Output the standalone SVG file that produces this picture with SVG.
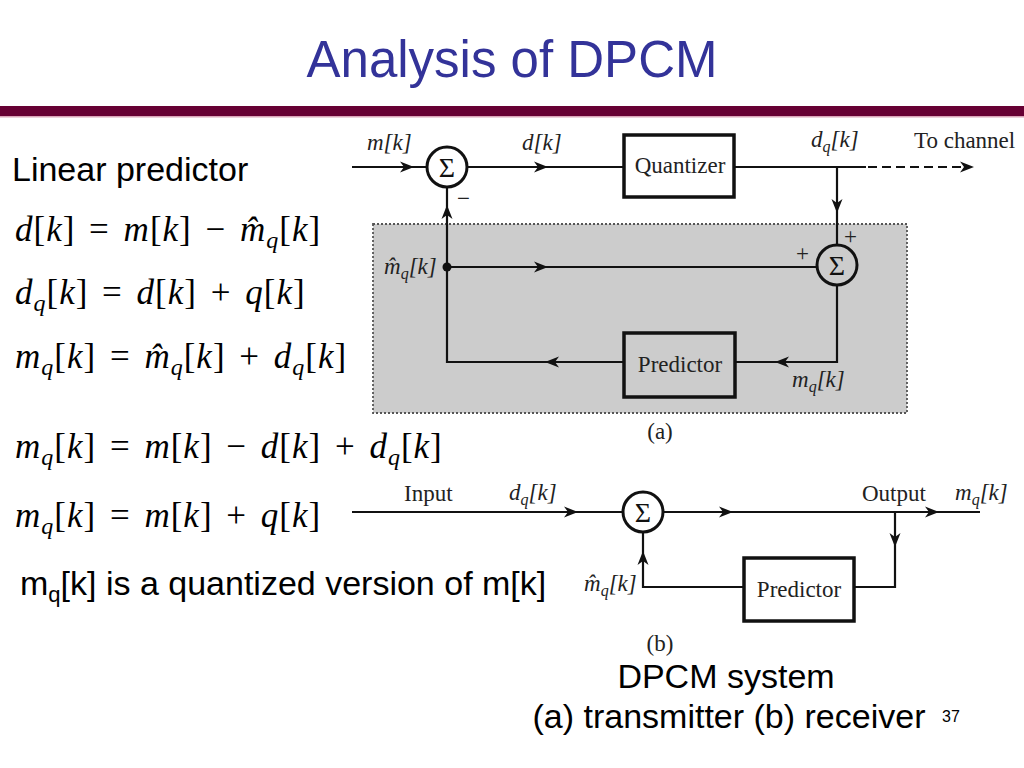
<svg xmlns="http://www.w3.org/2000/svg" xmlns:xlink="http://www.w3.org/1999/xlink" width="1024" height="768" viewBox="0 0 1024 768">
<defs>
<style>
.title{font-family:"Liberation Sans",Arial,sans-serif;font-size:51px;fill:#333399}
.body{font-family:"Liberation Sans",Arial,sans-serif;font-size:34px;fill:#000}
.eq{font-family:"Liberation Serif","Times New Roman",serif;font-size:35px;fill:#000;letter-spacing:1px;word-spacing:4px}
.i{font-style:italic}
.s{font-size:24px;font-style:italic}
.lbl{font-family:"Liberation Serif","Times New Roman",serif;font-size:23px;fill:#222}
.li{font-family:"Liberation Serif","Times New Roman",serif;font-size:23px;font-style:italic;fill:#222}
.ls{font-size:16px}
.box{fill:none;stroke:#111;stroke-width:3.5}
.wire{fill:none;stroke:#111;stroke-width:2.2}
.sum{stroke:#111;stroke-width:3}
.sig{font-family:"Liberation Serif","Times New Roman",serif;font-size:28px;fill:#111;text-anchor:middle}
</style>
<path id="ah" d="M0,0 L-14,-5.5 L-10,0 L-14,5.5 Z" fill="#111"/>
</defs>
<rect width="1024" height="768" fill="#fff"/>
<text class="title" x="512" y="77" text-anchor="middle">Analysis of DPCM</text>
<rect x="0" y="106" width="1024" height="10" fill="#660033"/>
<rect x="0" y="116" width="1024" height="1.5" fill="#d9a5b8"/>

<g id="left-text">
<text class="body" x="12" y="181">Linear predictor</text>
<text class="eq" x="15" y="241"><tspan class="i">d</tspan>[<tspan class="i">k</tspan>] = <tspan class="i">m</tspan>[<tspan class="i">k</tspan>] − <tspan class="i">m̂</tspan><tspan class="s" dy="7">q</tspan><tspan dy="-7">[</tspan><tspan class="i">k</tspan>]</text>
<text class="eq" x="15" y="304"><tspan class="i">d</tspan><tspan class="s" dy="7">q</tspan><tspan dy="-7">[</tspan><tspan class="i">k</tspan>] = <tspan class="i">d</tspan>[<tspan class="i">k</tspan>] + <tspan class="i">q</tspan>[<tspan class="i">k</tspan>]</text>
<text class="eq" x="15" y="368"><tspan class="i">m</tspan><tspan class="s" dy="7">q</tspan><tspan dy="-7">[</tspan><tspan class="i">k</tspan>] = <tspan class="i">m̂</tspan><tspan class="s" dy="7">q</tspan><tspan dy="-7">[</tspan><tspan class="i">k</tspan>] + <tspan class="i">d</tspan><tspan class="s" dy="7">q</tspan><tspan dy="-7">[</tspan><tspan class="i">k</tspan>]</text>
<text class="eq" x="15" y="458"><tspan class="i">m</tspan><tspan class="s" dy="7">q</tspan><tspan dy="-7">[</tspan><tspan class="i">k</tspan>] = <tspan class="i">m</tspan>[<tspan class="i">k</tspan>] − <tspan class="i">d</tspan>[<tspan class="i">k</tspan>] + <tspan class="i">d</tspan><tspan class="s" dy="7">q</tspan><tspan dy="-7">[</tspan><tspan class="i">k</tspan>]</text>
<text class="eq" x="15" y="527"><tspan class="i">m</tspan><tspan class="s" dy="7">q</tspan><tspan dy="-7">[</tspan><tspan class="i">k</tspan>] = <tspan class="i">m</tspan>[<tspan class="i">k</tspan>] + <tspan class="i">q</tspan>[<tspan class="i">k</tspan>]</text>
<text class="body" x="20" y="595">m<tspan font-size="22px" dy="7">q</tspan><tspan dy="-7">[k] is a quantized version of m[k]</tspan></text>
</g>

<g id="transmitter-area">
<rect x="373" y="224" width="534" height="189" fill="#cccccc" stroke="#555" stroke-width="1.8" stroke-dasharray="2 2"/>
</g>

<g id="connectors">
<path class="wire" d="M352,167 H426"/>
<path class="wire" d="M468,167 H624"/>
<path class="wire" d="M733,167 H866"/>
<path class="wire" d="M868,167 H962" stroke-dasharray="9 5"/>
<path class="wire" d="M837,167 V244"/>
<path class="wire" d="M447,267 H816"/>
<path class="wire" d="M837,286 V362 H735"/>
<path class="wire" d="M624,362 H447 V188"/>
<circle cx="447" cy="267" r="4.5" fill="#111"/>
<use xlink:href="#ah" transform="translate(414,167)"/>
<use xlink:href="#ah" transform="translate(548,167)"/>
<use xlink:href="#ah" transform="translate(974,167)"/>
<use xlink:href="#ah" transform="translate(837,213) rotate(90)"/>
<use xlink:href="#ah" transform="translate(548,267)"/>
<use xlink:href="#ah" transform="translate(775,362) rotate(180)"/>
<use xlink:href="#ah" transform="translate(545,362) rotate(180)"/>
<use xlink:href="#ah" transform="translate(447,205) rotate(-90)"/>

<path class="wire" d="M352,512 H623"/>
<path class="wire" d="M663,512 H980"/>
<path class="wire" d="M895,512 V587 H854"/>
<path class="wire" d="M744,587 H643 V532"/>
<use xlink:href="#ah" transform="translate(578,512)"/>
<use xlink:href="#ah" transform="translate(733,512)"/>
<use xlink:href="#ah" transform="translate(939,512)"/>
<use xlink:href="#ah" transform="translate(895,547) rotate(90)"/>
<use xlink:href="#ah" transform="translate(643,551) rotate(-90)"/>
</g>

<g id="sum1">
<circle class="sum" cx="447" cy="167" r="20" fill="#fff"/>
<text class="sig" x="447" y="177">Σ</text>
</g>
<g id="quantizer">
<rect class="box" x="624" y="135" width="110" height="62" fill="#fff"/>
<text class="lbl" x="680" y="173" text-anchor="middle" font-size="24px">Quantizer</text>
</g>
<g id="sum2">
<circle class="sum" cx="837" cy="265" r="20" fill="none"/>
<text class="sig" x="837" y="275">Σ</text>
</g>
<g id="predictor-a">
<rect class="box" x="624" y="333" width="111" height="64" fill="none"/>
<text class="lbl" x="680" y="372" text-anchor="middle" font-size="24px">Predictor</text>
</g>
<g id="sum3">
<circle class="sum" cx="643" cy="512" r="20" fill="#fff"/>
<text class="sig" x="643" y="522">Σ</text>
</g>
<g id="predictor-b">
<rect class="box" x="744" y="558" width="110" height="63" fill="#fff"/>
<text class="lbl" x="799" y="597" text-anchor="middle" font-size="24px">Predictor</text>
</g>

<g id="labels">
<text class="li" x="367" y="150">m[k]</text>
<text class="li" x="522" y="150">d[k]</text>
<text class="lbl" x="457" y="206" font-size="21px">−</text>
<text class="li" x="811" y="147">d<tspan class="ls" dy="5">q</tspan><tspan dy="-5">[k]</tspan></text>
<text class="lbl" x="914" y="148">To channel</text>
<text class="lbl" x="844" y="244" font-size="21px">+</text>
<text class="lbl" x="796" y="261" font-size="21px">+</text>
<text class="li" x="384" y="274">m̂<tspan class="ls" dy="5">q</tspan><tspan dy="-5">[k]</tspan></text>
<text class="li" x="792" y="387">m<tspan class="ls" dy="5">q</tspan><tspan dy="-5">[k]</tspan></text>
<text class="lbl" x="660" y="439" text-anchor="middle">(a)</text>
<text class="lbl" x="404" y="501">Input</text>
<text class="li" x="509" y="500">d<tspan class="ls" dy="5">q</tspan><tspan dy="-5">[k]</tspan></text>
<text class="lbl" x="862" y="501">Output</text>
<text class="li" x="955" y="500">m<tspan class="ls" dy="5">q</tspan><tspan dy="-5">[k]</tspan></text>
<text class="li" x="584" y="591">m̂<tspan class="ls" dy="5">q</tspan><tspan dy="-5">[k]</tspan></text>
<text class="lbl" x="660" y="651" text-anchor="middle">(b)</text>
</g>

<g id="caption">
<text class="body" x="726" y="688" text-anchor="middle">DPCM system</text>
<text class="body" x="729" y="728" text-anchor="middle">(a) transmitter (b) receiver</text>
<text x="942" y="722" font-family="Liberation Sans,Arial,sans-serif" font-size="16px" fill="#000">37</text>
</g>
</svg>
